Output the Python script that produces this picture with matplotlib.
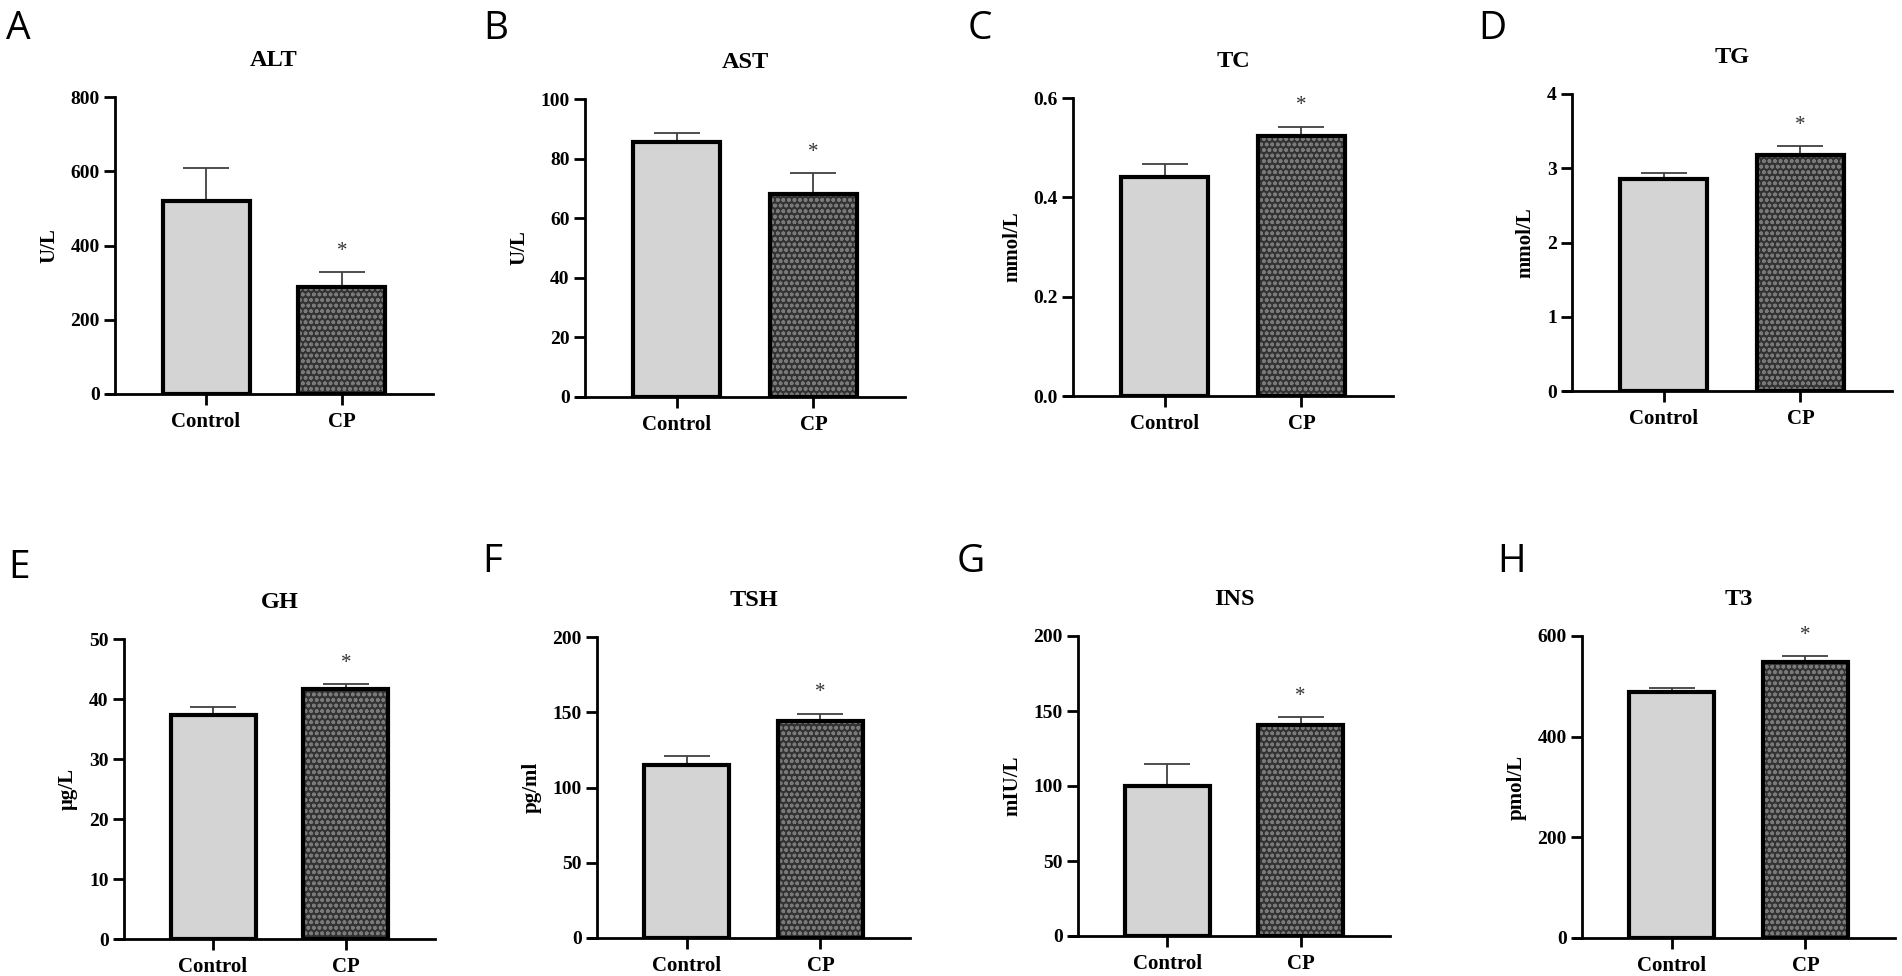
import matplotlib
matplotlib.use("Agg")
import matplotlib.pyplot as plt
import numpy as np

plt.rcParams['hatch.linewidth'] = 1.1
plt.rcParams['font.family'] = 'Liberation Serif'

groups = ["Control", "CP"]
letters = ["A", "B", "C", "D", "E", "F", "G", "H"]
titles = ["ALT", "AST", "TC", "TG", "GH", "TSH", "INS", "T3"]
units = ["U/L", "U/L", "mmol/L", "mmol/L", "μg/L", "pg/ml", "mIU/L", "pmol/L"]

# mean values (Control, CP) and upper error (SD)
means = [
    [520, 288],
    [85.6, 68.1],
    [0.441, 0.523],
    [2.855, 3.18],
    [37.3, 41.7],
    [115, 144],
    [100, 140.7],
    [489, 548],
]
errs = [
    [89, 41],
    [3.0, 7.1],
    [0.026, 0.019],
    [0.075, 0.12],
    [1.4, 0.8],
    [6, 5],
    [14.7, 5.3],
    [8, 12],
]
ymax = [800, 100, 0.6, 4, 50, 200, 200, 600]
ystep = [200, 20, 0.2, 1, 10, 50, 50, 200]
stars = [False, True]

W, H = 1902, 976
# axes boxes in pixels: left, right, top, bottom
boxes = [
    (115, 433, 97, 394),
    (585, 905, 99, 397),
    (1073, 1393, 98, 396),
    (1572, 1892, 94, 391),
    (124, 435, 639, 939),
    (597, 910, 637, 938),
    (1078, 1390, 636, 936),
    (1582, 1895, 636, 938),
]
letter_pos = [(6, 10), (483, 10), (968, 10), (1478, 10),
              (8, 549), (482, 543), (957, 543), (1497, 543)]

fig = plt.figure(figsize=(W / 100, H / 100), dpi=100)

x = np.arange(len(groups))
for i in range(8):
    l, r, t, b = boxes[i]
    ax = fig.add_axes([l / W, 1 - b / H, (r - l) / W, (b - t) / H])

    # error bars (upper only), drawn behind the bars
    ax.errorbar(x, means[i], yerr=[np.zeros(2), errs[i]], fmt='none',
                ecolor='#404040', elinewidth=1.3, capsize=16.5, capthick=1.3,
                zorder=1)
    ax.bar(x[0], means[i][0], width=0.64, color='#d4d4d4',
           edgecolor='black', linewidth=3, zorder=2)
    ax.bar(x[1], means[i][1], width=0.64, color='#333333',
           edgecolor='#7a7a7a', hatch='ooo', linewidth=0, zorder=2)
    ax.bar(x[1], means[i][1], width=0.64, fill=False,
           edgecolor='black', linewidth=3, zorder=3)

    for j in range(2):
        if stars[j]:
            ax.annotate('*', (x[j], means[i][j] + errs[i][j]),
                        xytext=(0, 15), textcoords='offset points',
                        ha='center', va='center', fontsize=15,
                        color='#333333')

    ax.set_xlim(-0.67, 1.67)
    ax.set_ylim(0, ymax[i])
    ax.set_yticks(np.arange(0, ymax[i] + ystep[i] / 2, ystep[i]))
    if ymax[i] < 1:
        ax.yaxis.set_major_formatter(matplotlib.ticker.FormatStrFormatter('%.1f'))
    ax.set_xticks(x)
    ax.set_xticklabels(groups)

    for s in ['top', 'right']:
        ax.spines[s].set_visible(False)
    for s in ['left', 'bottom']:
        ax.spines[s].set_linewidth(2)
    ax.spines['bottom'].set_bounds(-0.67 - 0.06, 1.67)
    ax.tick_params(axis='both', width=2, length=8, pad=3)
    ax.tick_params(axis='y', labelsize=14)
    ax.tick_params(axis='x', labelsize=15, pad=5)
    for lab in ax.get_xticklabels() + ax.get_yticklabels():
        lab.set_fontweight('bold')

    ax.set_ylabel(units[i], fontsize=15, fontweight='bold', labelpad=8)
    ax.set_title(titles[i], fontsize=17.5, fontweight='bold', pad=22)

    lx, ly = letter_pos[i]
    fig.text(lx / W, 1 - ly / H, letters[i], fontsize=28, family='Open Sans',
             ha='left', va='top')

fig.savefig('out.png', dpi=100, facecolor='white')
